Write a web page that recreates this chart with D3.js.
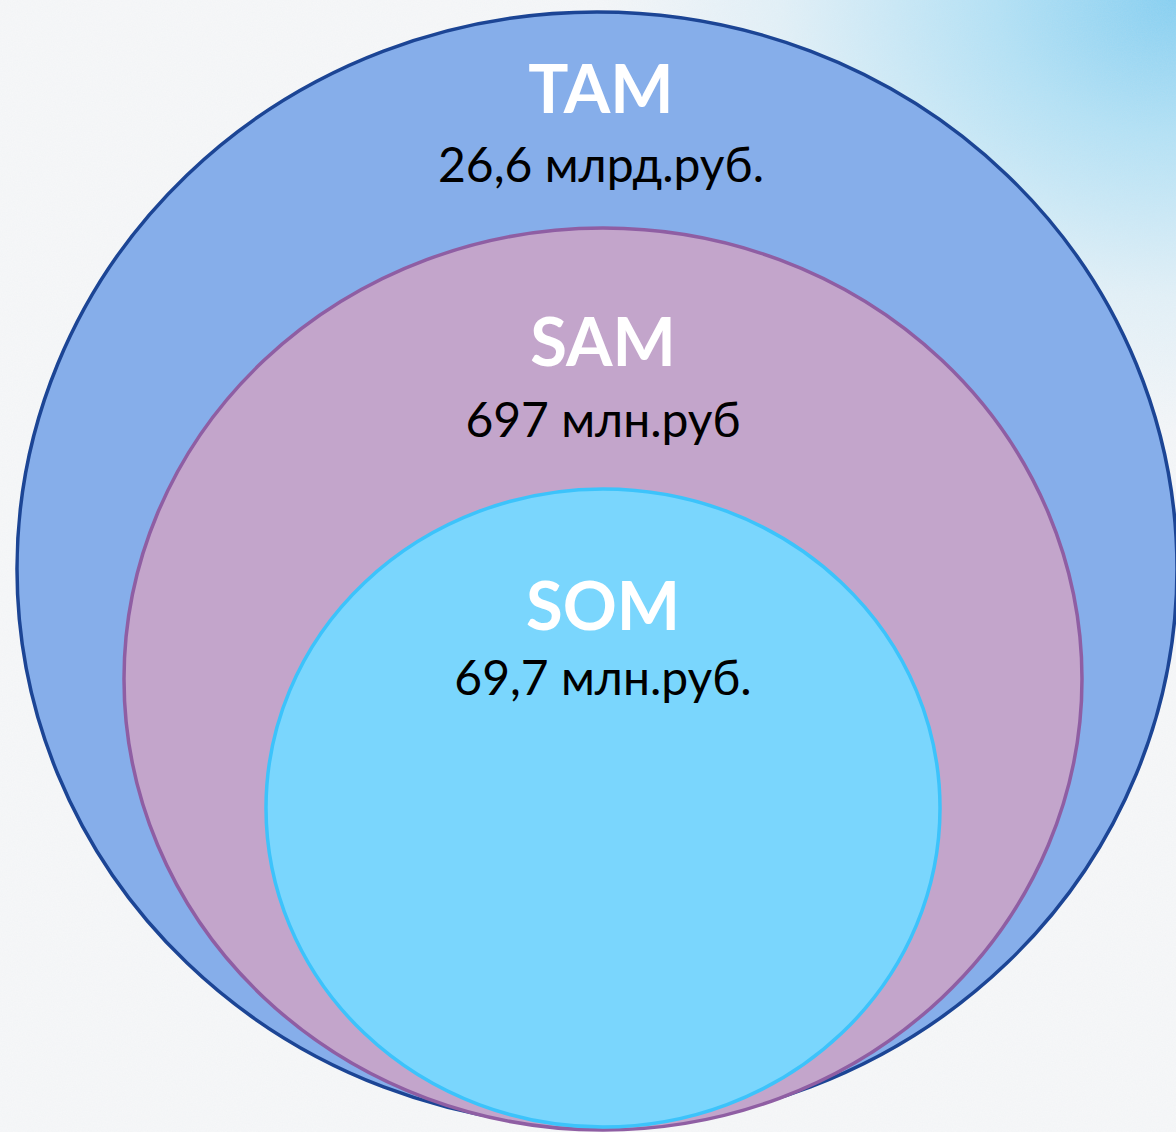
<!DOCTYPE html>
<html><head><meta charset="utf-8">
<script src="https://cdn.jsdelivr.net/npm/d3@7"></script>
<style>html,body{margin:0;padding:0;background:#f6f7f8;}svg{display:block;}</style>
</head><body>
<script>
const markets = ["TAM", "SAM", "SOM"];
const valueLabels = ["26,6 млрд.руб.", "697 млн.руб", "69,7 млн.руб."];
const fills = ["#86aeea", "#c3a5cb", "#7ad6fd"];
const strokes = ["#1c4595", "#8f5ea3", "#3cc3fb"];

const W = 1176, H = 1132;
// ellipse geometry (layout)
const geo = [
  {cx: 597, cy: 569, rx: 580, ry: 557, tx: 601, tb: 113, vb: 182},
  {cx: 603, cy: 679, rx: 479, ry: 451, tx: 603, tb: 366, vb: 437},
  {cx: 603, cy: 808, rx: 337, ry: 319, tx: 603, tb: 630, vb: 695}
];

const svg = d3.select("body").append("svg").attr("width", W).attr("height", H);
const defs = svg.append("defs");
const rg = defs.append("radialGradient").attr("id","bg").attr("gradientUnits","userSpaceOnUse")
  .attr("cx", W).attr("cy", 0).attr("r", 720)
  .attr("gradientTransform", `translate(${W},0) scale(1,0.75) translate(${-W},0)`);
rg.append("stop").attr("offset","0%").attr("stop-color","#86cff1");
rg.append("stop").attr("offset","25%").attr("stop-color","#b3e1f5");
rg.append("stop").attr("offset","55%").attr("stop-color","#e2f0f7");
rg.append("stop").attr("offset","80%").attr("stop-color","#f4f6f8");
rg.append("stop").attr("offset","100%").attr("stop-color","#f6f7f8");
const f = defs.append("filter").attr("id","noise").attr("x",0).attr("y",0).attr("width","100%").attr("height","100%");
f.append("feTurbulence").attr("type","fractalNoise").attr("baseFrequency",0.8).attr("numOctaves",2).attr("seed",3).attr("result","n");
f.append("feColorMatrix").attr("in","n").attr("type","matrix")
  .attr("values","0 0 0 0 0.7  0 0 0 0 0.75  0 0 0 0 0.82  0 0 0 0.35 -0.05").attr("result","c");
f.append("feComposite").attr("in","c").attr("in2","SourceGraphic").attr("operator","in");

svg.append("rect").attr("width",W).attr("height",H).attr("fill","url(#bg)");
svg.append("rect").attr("width",W).attr("height",H).attr("fill","#fff").attr("filter","url(#noise)").attr("opacity",0.5);

const g = svg.append("g");
g.selectAll("ellipse").data(markets).join("ellipse")
  .attr("cx",(d,i)=>geo[i].cx).attr("cy",(d,i)=>geo[i].cy)
  .attr("rx",(d,i)=>geo[i].rx).attr("ry",(d,i)=>geo[i].ry)
  .attr("fill",(d,i)=>fills[i]).attr("stroke",(d,i)=>strokes[i]).attr("stroke-width",3.5);

g.selectAll("text.title").data(markets).join("text").attr("class","title")
  .attr("x",(d,i)=>geo[i].tx).attr("y",(d,i)=>geo[i].tb)
  .attr("text-anchor","middle").attr("fill","#ffffff")
  .attr("font-family","Lato, 'Open Sans', sans-serif").attr("font-weight","bold").attr("font-size",67)
  .text(d=>d);

g.selectAll("text.val").data(valueLabels).join("text").attr("class","val")
  .attr("x",(d,i)=>geo[i].tx).attr("y",(d,i)=>geo[i].vb)
  .attr("text-anchor","middle").attr("fill","#000000")
  .attr("font-family","Lato, 'Open Sans', sans-serif").attr("font-size",48)
  .text(d=>d);
</script>
</body></html>
